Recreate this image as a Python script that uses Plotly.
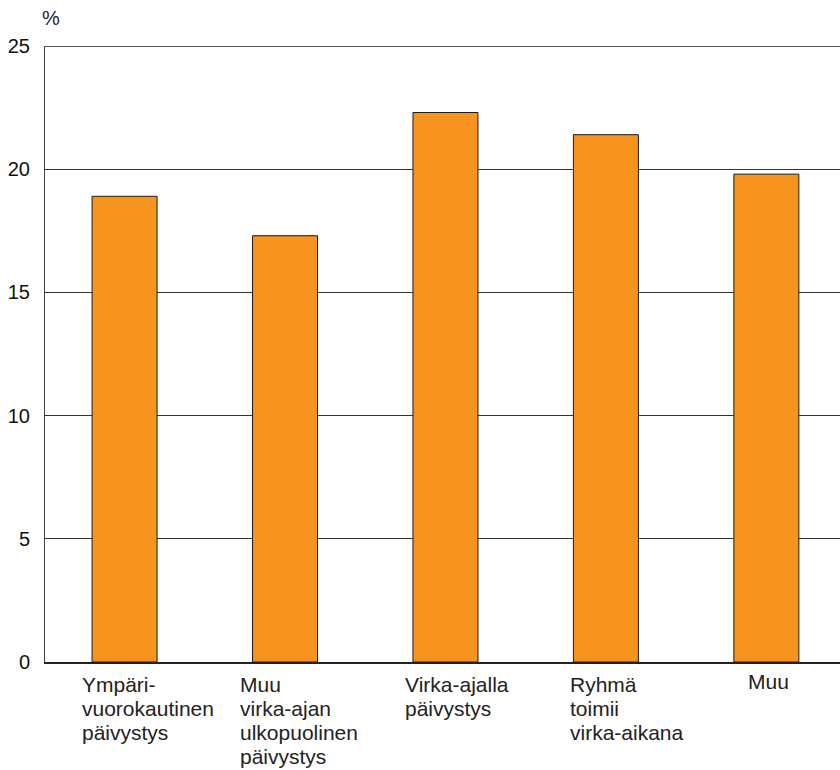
import plotly.graph_objects as go

# Share of respondents by on-call arrangement (%)
categories = [
    "Ympäri-\nvuorokautinen\npäivystys",
    "Muu\nvirka-ajan\nulkopuolinen\npäivystys",
    "Virka-ajalla\npäivystys",
    "Ryhmä\ntoimii\nvirka-aikana",
    "Muu",
]
values = [18.9, 17.3, 22.3, 21.4, 19.8]
y_ticks = [0, 5, 10, 15, 20, 25]

FONT = "Liberation Sans, Arial, Helvetica, sans-serif"
BAR_COLOR = "#F7941D"

x_idx = list(range(len(categories)))

fig = go.Figure(
    go.Bar(
        x=x_idx,
        y=values,
        width=0.405,
        marker=dict(color=BAR_COLOR, line=dict(color="#1a1a1a", width=1)),
        hoverinfo="skip",
    )
)

# Category labels: one annotation per line, left aligned below each bar
label_xshift = [-45, -47, -42, -38, -20]
label_yshift = [-9, -9, -9, -9, -6]
line_step = 24
annotations = []
for i, lab in enumerate(categories):
    for j, line in enumerate(lab.split("\n")):
        annotations.append(
            dict(
                x=i, y=0, xref="x", yref="y",
                text=line, showarrow=False,
                xanchor="left", yanchor="top",
                xshift=label_xshift[i],
                yshift=label_yshift[i] - j * line_step,
                font=dict(family=FONT, size=21, color="#222"),
            )
        )

annotations.append(
    dict(
        x=0, y=1, xref="paper", yref="paper",
        text="%", showarrow=False,
        xanchor="left", yanchor="bottom",
        xshift=-5, yshift=15,
        font=dict(family=FONT, size=20, color="#222"),
    )
)

fig.update_layout(
    width=840,
    height=770,
    margin=dict(l=45, r=0, t=46, b=108),
    paper_bgcolor="white",
    plot_bgcolor="white",
    showlegend=False,
    annotations=annotations,
    shapes=[
        dict(
            type="line", xref="paper", yref="y",
            x0=0, x1=1, y0=25, y1=25,
            line=dict(color="#222", width=1.5),
        )
    ],
    xaxis=dict(
        range=[-0.496, 4.459],
        showticklabels=False,
        ticks="",
        showgrid=False,
        zeroline=False,
        showline=True,
        linecolor="#222",
        linewidth=1.5,
        fixedrange=True,
    ),
    yaxis=dict(
        range=[0, 25],
        tickvals=y_ticks,
        ticktext=[str(v) for v in y_ticks],
        ticks="",
        ticklabelstandoff=10,
        tickfont=dict(family=FONT, size=20, color="#111"),
        showgrid=True,
        gridcolor="#333",
        gridwidth=1,
        zeroline=False,
        showline=True,
        linecolor="#444",
        linewidth=1,
        fixedrange=True,
    ),
)

fig.write_html("out.html")
